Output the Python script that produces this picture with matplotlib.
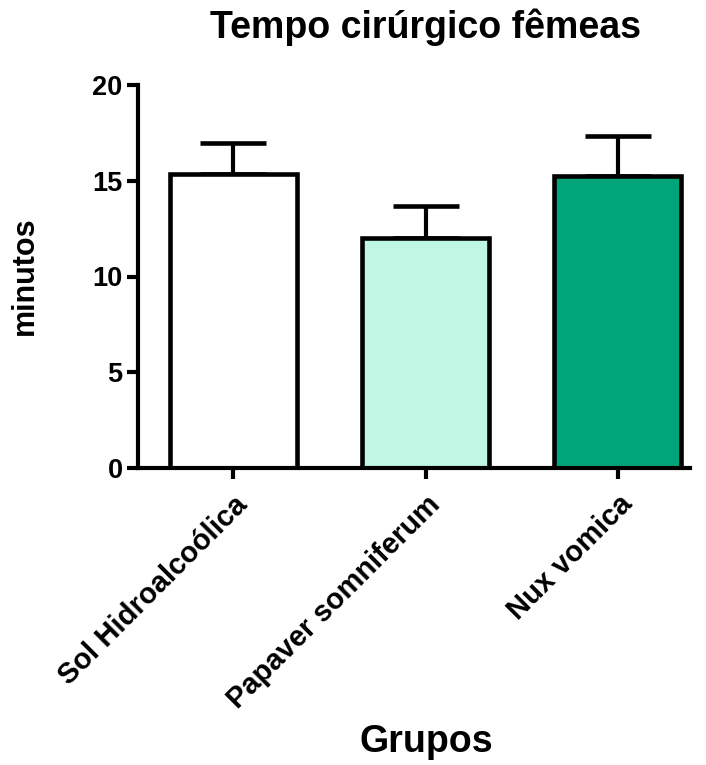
import numpy as np
import matplotlib
matplotlib.use("Agg")
import matplotlib.pyplot as plt

plt.rcParams['font.family'] = ['Liberation Sans', 'DejaVu Sans']
plt.rcParams['font.weight'] = 'bold'

# dados
grupos = ['Sol Hidroalcoólica', 'Papaver somniferum', 'Nux vomica']
medias = [15.35, 12.03, 15.25]
erros = [1.6, 1.65, 2.09]
cores = ['#FFFFFF', '#C0F6E4', '#00A679']

fig = plt.figure(figsize=(7.06, 7.65), dpi=100)
ax = fig.add_axes([138/706, 297/765, (690-138)/706, (468-85)/765])

x = np.arange(len(grupos))
ax.bar(x, medias, width=0.66, color=cores, edgecolor='black', linewidth=3.3, zorder=2)
eb = ax.errorbar(x, medias, yerr=[np.zeros(len(erros)), erros], fmt='none', ecolor='black',
                 elinewidth=3.0, capsize=24, capthick=3.3, zorder=1)
for cap in eb[1]:
    cap.set_solid_capstyle('round')

ax.set_ylim(0, 20)
ax.set_xlim(-0.495, 2.375)
ax.set_yticks([0, 5, 10, 15, 20])
ax.set_xticks(x)
ax.set_xticklabels(grupos, rotation=45, ha='right', va='top', rotation_mode='anchor',
                   fontsize=21, fontweight='bold')
ax.tick_params(axis='y', labelsize=19.5, width=3, length=8, pad=3)
ax.tick_params(axis='x', width=3, length=8, pad=8)
for lab in ax.get_yticklabels():
    lab.set_fontweight('bold')

for s in ['top', 'right']:
    ax.spines[s].set_visible(False)
for s in ['left', 'bottom']:
    ax.spines[s].set_linewidth(3)

fig.text(426/706, 1 - 38/765, 'Tempo cirúrgico fêmeas', ha='center', va='baseline',
         fontsize=27, fontweight='bold')
fig.text(426/706, 1 - 752/765, 'Grupos', ha='center', va='baseline',
         fontsize=27, fontweight='bold')
fig.text(25/706, 1 - 276/765, 'minutos', ha='center', va='center', rotation=90,
         fontsize=22, fontweight='bold')

fig.savefig('out.png', dpi=100)
